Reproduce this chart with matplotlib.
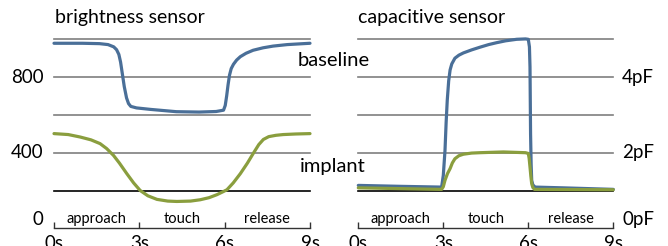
import matplotlib
matplotlib.use("Agg")
import matplotlib.pyplot as plt

plt.rcParams['font.family'] = ['Lato', 'DejaVu Sans']

# ---- data ----
phases = ["approach", "touch", "release"]
time_ticks = [0, 3, 6, 9]
time_labels = ["0s", "3s", "6s", "9s"]

# brightness sensor
b_base_t = [0, 1.0, 1.6, 1.9, 2.1, 2.2, 2.28, 2.34, 2.4, 2.47, 2.55, 2.62, 2.7, 2.9, 3.4,
            4.3, 5.1, 5.7, 5.96, 6.02, 6.07, 6.12, 6.17, 6.23, 6.31, 6.42, 6.55, 6.75,
            7.0, 7.35, 7.7, 8.2, 9.0]
b_base_v = [979, 979, 977, 972, 960, 945, 920, 880, 820, 750, 690, 660, 645, 637, 629,
            617, 615, 618, 625, 650, 700, 760, 810, 845, 868, 890, 908, 926,
            942, 955, 964, 972, 979]
b_impl_t = [0, 0.5, 0.92, 1.3, 1.62, 1.85, 2.09, 2.3, 2.56, 2.8, 3.03, 3.3, 3.62, 4.0, 4.32,
            4.8, 5.14, 5.45, 5.73, 5.95, 6.08, 6.3, 6.55, 6.8, 7.0, 7.2, 7.36, 7.55, 7.8,
            8.06, 8.5, 9.0]
b_impl_v = [501, 496, 483, 468, 448, 422, 386, 345, 289, 240, 200, 172, 153, 144, 142,
            144, 151, 162, 178, 194, 204, 240, 289, 345, 395, 443, 470, 485, 492,
            496, 499, 501]
b_grid = [200, 400, 600, 800, 1000]
b_ylabels = [0, 400, 800]

# capacitive sensor (pF)
c_base_t = [0, 1.5, 2.94, 3.0, 3.06, 3.1, 3.14, 3.19, 3.24, 3.3, 3.41, 3.55, 3.71, 4.0,
            4.29, 4.6, 4.88, 5.2, 5.59, 5.9, 6.0, 6.04, 6.06, 6.08, 6.1, 6.12, 6.16,
            6.24, 7.24, 9.0]
c_base_v = [1.135, 1.11, 1.09, 1.4, 2.06, 2.8, 3.39, 3.9, 4.19, 4.35, 4.5, 4.58, 4.64, 4.72,
            4.79, 4.86, 4.91, 4.96, 5.0, 5.01, 5.0, 4.8, 4.27, 2.5, 1.7, 1.27, 1.15,
            1.09, 1.07, 1.03]
c_impl_t = [0, 2.94, 3.0, 3.06, 3.15, 3.24, 3.32, 3.41, 3.55, 3.71, 4.0, 4.29, 5.12, 5.9,
            6.0, 6.03, 6.06, 6.09, 6.12, 6.16, 6.22, 9.0]
c_impl_v = [1.07, 1.03, 1.1, 1.27, 1.45, 1.58, 1.73, 1.84, 1.92, 1.96, 1.99, 2.0, 2.02, 2.0,
            1.98, 1.85, 1.62, 1.38, 1.18, 1.08, 1.03, 1.02]
c_grid = [1, 2, 3, 4, 5]
c_ylabels = [0, 2, 4]

BLUE = "#4a6f98"
GREEN = "#8a9e3e"
GRID = "#7f7f7f"

W, H = 668, 246
fig = plt.figure(figsize=(W / 100, H / 100), dpi=100)

def px_axes(x0, x1, ytop, ybot):
    return fig.add_axes([x0 / W, 1 - ybot / H, (x1 - x0) / W, (ybot - ytop) / H])

axL = px_axes(54, 310, 39.3, 228.3)
axR = px_axes(358.3, 613.3, 39.3, 228.3)

def style(ax, grid, ymax, ylabels, fmt, side):
    ax.set_xlim(0, 9)
    ax.set_ylim(0, ymax)
    for i, g in enumerate(grid):
        ax.axhline(g, color="black" if i == 0 else GRID, lw=1.2, zorder=1, clip_on=False)
    for s in ["top", "left", "right"]:
        ax.spines[s].set_visible(False)
    ax.spines["bottom"].set_color("#333333")
    ax.spines["bottom"].set_linewidth(1.0)
    ax.set_yticks([])
    ax.set_xticks(time_ticks)
    ax.set_xticklabels(time_labels)
    ax.tick_params(axis="x", direction="in", length=4, width=1.0, color="#333333",
                   pad=4.5, labelsize=13.5)
    for i, p in enumerate(phases):
        ax.annotate(p, xy=(1.5 + 3 * i, 0), xycoords="data", xytext=(0, 3.8),
                    textcoords="offset points", ha="center", va="baseline", fontsize=10.5)
    for v in ylabels:
        dy = 6.5 if v == 0 else 0
        if side == "left":
            ax.annotate(fmt(v), xy=(0, v), xycoords=("axes fraction", "data"),
                        xytext=(-7.5, dy), textcoords="offset points",
                        ha="right", va="center", fontsize=13.5)
        else:
            ax.annotate(fmt(v), xy=(1, v), xycoords=("axes fraction", "data"),
                        xytext=(6.3, dy), textcoords="offset points",
                        ha="left", va="center", fontsize=13.5)
    ax.patch.set_visible(False)

style(axL, b_grid, 1000, b_ylabels, lambda v: f"{v}", "left")
style(axR, c_grid, 5, c_ylabels, lambda v: f"{v}pF", "right")

kw = dict(lw=2.3, clip_on=False, solid_capstyle="round", solid_joinstyle="round")
axL.plot(b_base_t, b_base_v, color=BLUE, zorder=3, **kw)
axL.plot(b_impl_t, b_impl_v, color=GREEN, zorder=3, **kw)
axR.plot(c_base_t, c_base_v, color=BLUE, zorder=3, **kw)
axR.plot(c_impl_t, c_impl_v, color=GREEN, zorder=4, **kw)

fig.text(55 / W, 1 - 18 / H, "brightness sensor", ha="left", va="center", fontsize=14)
fig.text(358 / W, 1 - 18 / H, "capacitive sensor", ha="left", va="center", fontsize=14)
fig.text(298 / W, 1 - 66 / H, "baseline", ha="left", va="baseline", fontsize=14.5)
fig.text(300 / W, 1 - 172 / H, "implant", ha="left", va="baseline", fontsize=14.5)

fig.savefig("out.png", dpi=100)
